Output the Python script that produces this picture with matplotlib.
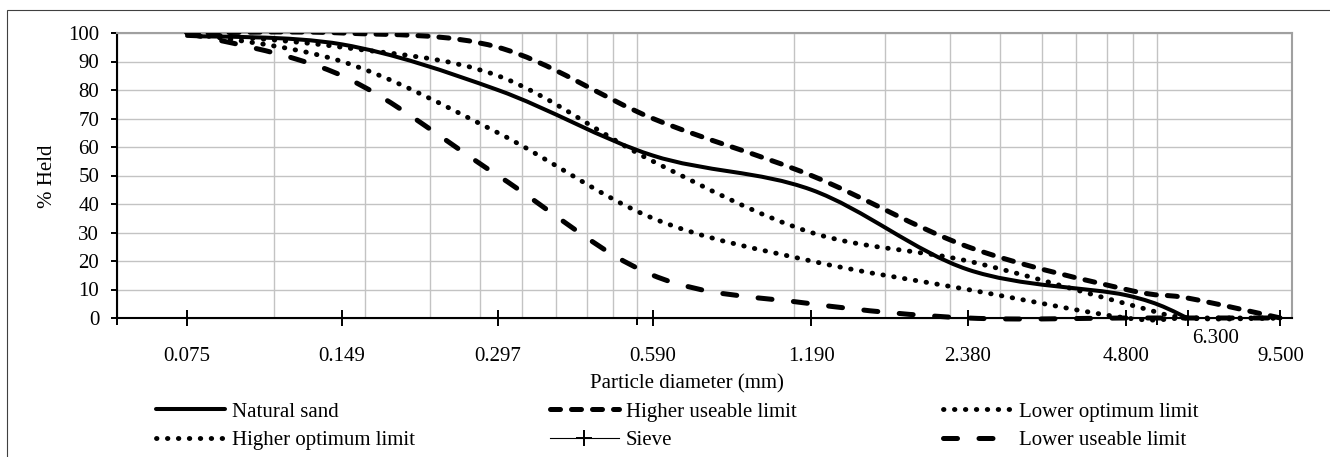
import numpy as np
import matplotlib
matplotlib.use("Agg")
import matplotlib.pyplot as plt
from matplotlib.path import Path
from matplotlib.patches import PathPatch, Rectangle
from matplotlib.lines import Line2D
from matplotlib.ticker import FixedLocator, NullFormatter

plt.rcParams["font.family"] = ["Liberation Serif", "DejaVu Serif"]
plt.rcParams["font.size"] = 15

# sieve openings (mm)
sieves = [0.075, 0.149, 0.297, 0.590, 1.190, 2.380, 4.800, 6.300, 9.500]

# cumulative % held on each sieve
natural_sand   = [99, 96, 80, 57, 45, 17, 8, 0]          # last sieve with material: 6.3 mm
higher_useable = [100, 100, 95, 70, 50, 25, 10, 7, 0]
lower_optimum  = [100, 90, 65, 35, 20, 10, 0, 0, 0]
higher_optimum = [100, 95, 85, 55, 30, 20, 5, 0, 0]
lower_useable  = [100, 85, 50, 15, 5, 0, 0, 0, 0]
sieve_marks    = [0, 0, 0, 0, 0, 0, 0, 0, 0]

X_MIN, X_MAX = 0.055, 10.0
W, H = 1330, 457


def smooth_path(xs, ys):
    """Cubic Bezier through the points (Catmull-Rom style), built in log-x space."""
    pts = np.column_stack([np.log10(xs), np.asarray(ys, float)])
    n = len(pts)
    verts, codes = [pts[0]], [Path.MOVETO]
    for i in range(n - 1):
        p0 = pts[max(i - 1, 0)]
        p1 = pts[i]
        p2 = pts[i + 1]
        p3 = pts[min(i + 2, n - 1)]
        verts += [p1 + (p2 - p0) / 6, p2 - (p3 - p1) / 6, p2]
        codes += [Path.CURVE4] * 3
    verts = np.array(verts)
    verts[:, 0] = 10 ** verts[:, 0]
    return Path(verts, codes)


fig = plt.figure(figsize=(W / 100, H / 100), dpi=100)
ax = fig.add_axes([117 / W, 1 - 318 / H, (1292 - 117) / W, (318 - 33) / H])

ax.set_xscale("log")
ax.set_xlim(X_MIN, X_MAX)
ax.set_ylim(0, 100)

# grid: log-style lines at X_MIN * k
major = [X_MIN * 10 ** d for d in range(3)]
minor = [X_MIN * k * 10 ** d for d in range(2) for k in range(2, 10)]
ax.xaxis.set_major_locator(FixedLocator(major))
ax.xaxis.set_minor_locator(FixedLocator(minor))
ax.xaxis.set_major_formatter(NullFormatter())
ax.xaxis.set_minor_formatter(NullFormatter())
ax.set_yticks(range(0, 101, 10))
ax.grid(which="both", axis="x", color="#C3C3C3", lw=1.0)
ax.grid(which="major", axis="y", color="#C3C3C3", lw=1.0)
ax.set_axisbelow(True)

ax.tick_params(axis="x", which="major", direction="out", length=5, width=1.4, color="k")
ax.tick_params(axis="x", which="minor", length=0)
ax.tick_params(axis="y", direction="out", length=4.3, width=1.4, color="k", pad=8.5, labelsize=15)

for side in ("left", "bottom"):
    ax.spines[side].set_color("k")
    ax.spines[side].set_linewidth(1.5)
for side in ("top", "right"):
    ax.spines[side].set_color("#A0A0A0")
    ax.spines[side].set_linewidth(1.5)

dots = (0, (0.1, 2.15))
series = [
    ("Natural sand",         natural_sand,   dict(lw=2.9, ls="-")),
    ("Higher useable limit", higher_useable, dict(lw=3.6, ls=(0, (2.0, 2.2)))),
    ("Lower optimum limit",  lower_optimum,  dict(lw=3.5, ls=dots)),
    ("Higher optimum limit", higher_optimum, dict(lw=3.5, ls=dots)),
    ("Lower useable limit",  lower_useable,  dict(lw=3.6, ls=(0, (2.8, 4.3)))),
]

clip = Rectangle((X_MIN, -5), X_MAX - X_MIN, 105, transform=ax.transData)
handles = {}
for name, vals, st in series:
    patch = PathPatch(smooth_path(sieves[:len(vals)], vals), fill=False,
                      edgecolor="k", lw=st["lw"], linestyle=st["ls"],
                      capstyle="round", joinstyle="round", zorder=3)
    ax.add_patch(patch)
    patch.set_clip_path(clip)
    handles[name] = Line2D([], [], color="k", lw=st["lw"], ls=st["ls"],
                           dash_capstyle="round", solid_capstyle="round")

ax.plot(sieves, sieve_marks, color="k", lw=0.8, marker="+", ms=12,
        mew=1.4, zorder=5, clip_on=False)
handles["Sieve"] = Line2D([], [], color="k", lw=0.8, marker="+", ms=12, mew=1.4)

# sieve size labels under the axis
for s in sieves:
    off = (20, -15) if s == 6.3 else (0, -27.5)
    ax.annotate(f"{s:.3f}", (s, 0), xytext=off, textcoords="offset points",
                ha="center", va="center", fontsize=15)

fig.text(47 / W, 1 - 176 / H, "% Held", rotation=90, ha="center", va="center")
fig.text(687 / W, 1 - 384 / H, "Particle diameter (mm)", ha="center", va="center")

columns = [
    (156, ["Natural sand", "Higher optimum limit"]),
    (550, ["Higher useable limit", "Sieve"]),
    (943, ["Lower optimum limit", "Lower useable limit"]),
]
for x0, names in columns:
    fig.legend([handles[n] for n in names], names, loc="upper left",
               bbox_to_anchor=(x0 / W, 1 - 402 / H), frameon=False,
               borderpad=0, borderaxespad=0, handlelength=3.3,
               handletextpad=0.35, labelspacing=0.42, fontsize=15)

# outer chart border
fig.patches.append(Rectangle((7 / W, -0.1), 2, 1 - 10 / H + 0.1,
                             transform=fig.transFigure, fill=False,
                             edgecolor="#404040", lw=0.8))

fig.savefig("out.png", dpi=100)
